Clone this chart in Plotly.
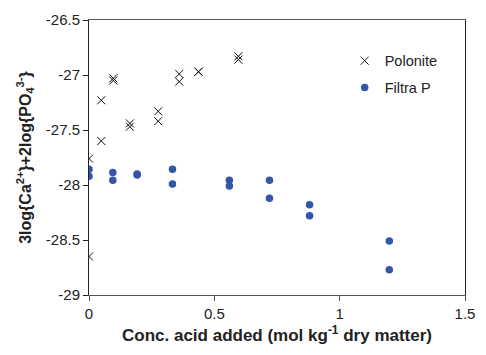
import plotly.graph_objects as go

polonite_x = [0.0, 0.0, 0.049, 0.049, 0.097, 0.097, 0.163, 0.163, 0.276, 0.276, 0.36, 0.36, 0.437, 0.437, 0.596, 0.596]
polonite_y = [-27.76, -28.65, -27.23, -27.60, -27.03, -27.05, -27.44, -27.47, -27.33, -27.42, -26.99, -27.06, -26.97, -26.97, -26.83, -26.86]

filtra_x = [0.0, 0.0, 0.095, 0.095, 0.192, 0.192, 0.333, 0.333, 0.56, 0.56, 0.72, 0.72, 0.88, 0.88, 1.198, 1.198]
filtra_y = [-27.856, -27.92, -27.886, -27.957, -27.90, -27.91, -27.856, -27.99, -27.957, -28.01, -27.957, -28.12, -28.18, -28.28, -28.51, -28.77]

x_ticks = [0, 0.5, 1, 1.5]
y_ticks = [-29, -28.5, -28, -27.5, -27, -26.5]

font = "Liberation Sans, Arial, sans-serif"

fig = go.Figure()
fig.add_trace(go.Scatter(
    x=polonite_x, y=polonite_y, mode="markers", name="Polonite", legendgroup="a",
    marker=dict(symbol="x-thin-open", size=8, line=dict(color="#111111", width=1), color="#111111"),
))
fig.add_trace(go.Scatter(
    x=filtra_x, y=filtra_y, mode="markers", name="Filtra P", legendgroup="b",
    marker=dict(symbol="circle", size=7.5, color="#3556a8"),
))

fig.update_layout(
    width=486, height=355,
    margin=dict(l=89, r=11, t=13, b=60),
    paper_bgcolor="white", plot_bgcolor="white",
    font=dict(family=font, size=15, color="#222222"),
    showlegend=True,
    legend=dict(x=0.68, y=0.91, xanchor="left", yanchor="top",
                bgcolor="rgba(0,0,0,0)", font=dict(size=14.5, color="#222222"),
                tracegroupgap=5),
    xaxis=dict(
        range=[0, 1.5], tickvals=x_ticks, ticktext=[str(v) for v in x_ticks],
        showgrid=False, zeroline=False,
        showline=True, linecolor="#555555", linewidth=1, mirror=True,
        ticks="outside", ticklen=5, tickcolor="#555555",
        title=dict(text="<b>Conc. acid added (mol kg<sup>-1</sup> dry matter)</b>",
                   font=dict(size=17, color="#222222"), standoff=8),
    ),
    yaxis=dict(
        range=[-29, -26.5], tickvals=y_ticks, ticktext=[str(v) for v in y_ticks],
        showgrid=False, zeroline=False,
        showline=True, linecolor="#222222", linewidth=1, mirror=True,
        ticks="outside", ticklen=5, tickcolor="#222222",
        title=dict(text="<b>3log{Ca<sup>2+</sup>}+2log{PO<sub>4</sub><sup>3-</sup>}</b>",
                   font=dict(size=16, color="#222222"), standoff=10),
    ),
)

fig.write_html("out.html")
